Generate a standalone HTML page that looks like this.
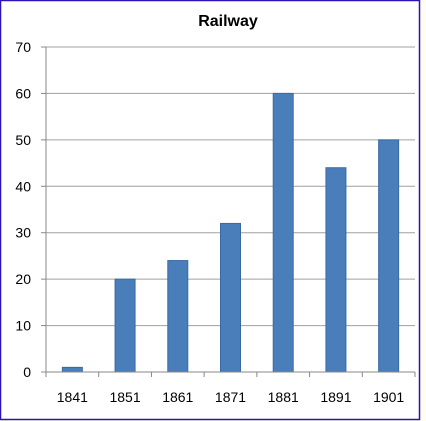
<!DOCTYPE html>
<html><head><style>
body{margin:0;background:#fffdf0;}
svg{display:block;}
text{font-family:"Liberation Sans",sans-serif;}
</style></head><body>
<svg width="426" height="421">
<rect x="0.5" y="0.5" width="419" height="419" fill="#fff" stroke="#2a14b4" stroke-width="1.5"/>
<text x="228" y="26" font-size="16" font-weight="bold" text-anchor="middle" fill="#000">Railway</text>
<g id="grid"></g><g id="bars"></g><g id="axes"></g>
</svg>
<script>
const categories=["1841","1851","1861","1871","1881","1891","1901"];
const values=[1,20,24,32,60,44,50];
const yTicks=[0,10,20,30,40,50,60,70];
const L=46,R=415,T=47,B=372,yMax=70;
const ns="http://www.w3.org/2000/svg";
const y=v=>B-(v/yMax)*(B-T);
const cw=(R-L)/categories.length;
const x=i=>L+cw*(i+0.5);
function mk(t,a,p){const e=document.createElementNS(ns,t);for(const k in a)e.setAttribute(k,a[k]);document.getElementById(p).appendChild(e);return e;}
yTicks.forEach(v=>{
 if(v>0){const g=mk('line',{x1:L,x2:R,y1:y(v),y2:y(v),stroke:'#a0a0a0','stroke-width':1},'grid');
 
 }
 const t=mk('text',{x:31,y:y(v)+5,'font-size':14,'text-anchor':'end',fill:'#000'},'axes');t.textContent=v;
 
 
 mk('line',{x1:L-5,x2:L,y1:y(v),y2:y(v),stroke:'#888'},'axes');
});
mk('line',{x1:L,x2:L,y1:T,y2:B,stroke:'#888'},'axes');
mk('line',{x1:L,x2:R,y1:B,y2:B,stroke:'#888'},'axes');
for(let i=0;i<=categories.length;i++)mk('line',{x1:L+cw*i,x2:L+cw*i,y1:B,y2:B+5,stroke:'#888'},'axes');
categories.forEach((c,i)=>{
 const b=mk('rect',{x:x(i)-10,y:y(values[i]),width:20,height:B-y(values[i]),fill:'#4a7ebb',stroke:'#3a6aa5','stroke-width':1},'bars');
 
 
 const t=mk('text',{x:x(i),y:402,'font-size':14,'text-anchor':'middle',fill:'#000'},'axes');t.textContent=c;
 
 
});
</script>
</body></html>
